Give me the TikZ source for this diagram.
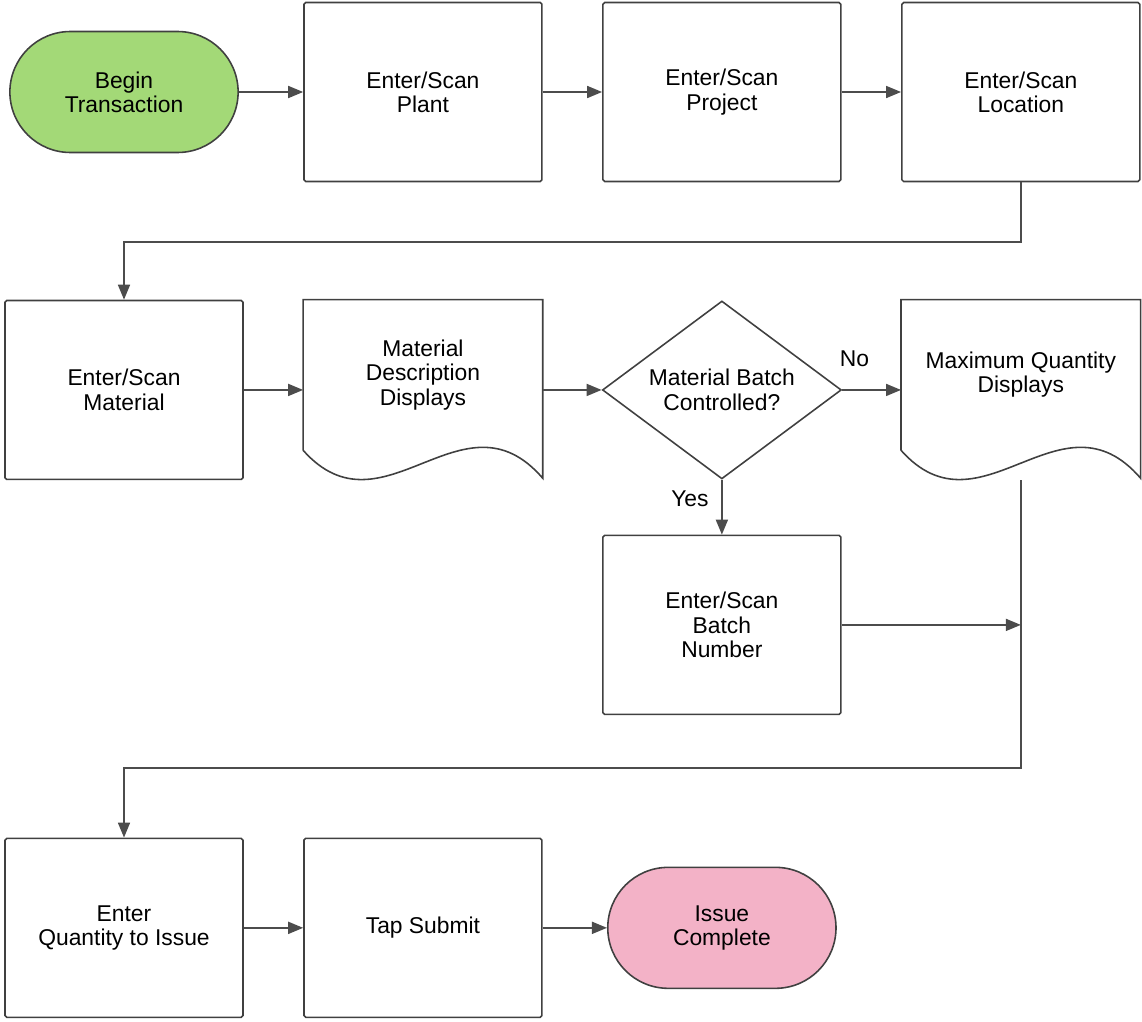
\documentclass[tikz,border=0pt]{standalone}
\usepackage{fontspec}
\setmainfont{Liberation Sans}
\usetikzlibrary{positioning, arrows.meta, shapes.geometric, shapes.misc}
\usetikzlibrary{calc}
\definecolor{startgreen}{RGB}{163,217,119}
\definecolor{endpink}{RGB}{243,178,199}
\tikzset{
x=0.02cm, y=-0.02cm, % one unit is one pixel, y runs downwards
>={Triangle[length=0.3cm,width=0.24cm]}, % filled arrow heads
node distance=5.98cm, % distance between two columns
every node/.style={font=\fontsize{13}{13.8}\selectfont, align=center}, % text of all nodes
box/.style={draw=black!75, line width=0.9pt, minimum width=4.76cm, minimum height=3.58cm, rounded corners=1pt}, % process steps
terminal/.style={rounded rectangle, draw=black!75, line width=0.9pt, minimum width=4.8cm, minimum height=2.42cm}, % start and end
decision/.style={diamond, aspect=1.34, draw=black!75, line width=0.9pt, minimum width=4.78cm, minimum height=3.56cm, inner sep=0pt}, % the question
doc/.style={minimum width=4.78cm, minimum height=3cm}, % text part of a document shape
flow/.style={->, draw=black!70, line width=1pt}, % connectors
}
\begin{document}
\begin{tikzpicture}
    \useasboundingbox (0,0) rectangle (1142,1021);
    \node[terminal, fill=startgreen] (begin) at (124,92) {Begin\\Transaction};
    \node[box, right of=begin] (plant) {Enter/Scan\\Plant};
    \node[box, right of=plant] (project) {Enter/Scan\\Project};
    \node[box, right of=project] (location) {Enter/Scan\\Location};
    \node[box, below of=begin, node distance=5.96cm] (material) {Enter/Scan\\Material};
    \node[doc, right of=material, yshift=0.3cm] (desc) {Material\\Description\\Displays};
    \node[decision, right of=material, node distance=11.96cm] (check) {Material Batch\\Controlled?};
    \node[doc, right of=check, yshift=0.3cm] (maxq) {Maximum Quantity\\Displays};
    \node[box, below of=check, node distance=4.7cm] (batch) {Enter/Scan\\Batch\\Number};
    \node[box, below of=material, node distance=10.76cm] (qty) {Enter\\Quantity to Issue};
    \node[box, right of=qty] (submit) {Tap Submit};
    \node[terminal, fill=endpink, right of=submit] (done) {Issue\\Complete};
    % document outlines with the wavy bottom
    \draw[draw=black!75, line width=0.9pt] (desc.south west) -- (desc.north west) -- (desc.north east) -- ($(desc.south east)+(0,28)$)
    .. controls ($(desc.south east)+(-80,-65)$) and ($(desc.south west)+(80,90)$) .. (desc.south west);
    \draw[draw=black!75, line width=0.9pt] (maxq.south west) -- (maxq.north west) -- (maxq.north east) -- ($(maxq.south east)+(0,28)$)
    .. controls ($(maxq.south east)+(-80,-65)$) and ($(maxq.south west)+(80,90)$) .. (maxq.south west);
    \coordinate (mqend) at ($(maxq.south)+(0,30)$);
    \draw[flow] (begin) -- (plant);
    \draw[flow] (plant) -- (project);
    \draw[flow] (project) -- (location);
    \draw[flow] (location.south) -- ++(0,60) -| (material.north);
    \draw[flow] (material) -- (material -| desc.west);
    \draw[flow] (desc.east |- check) -- (check);
    \draw[flow] (check) -- node[pos=0.21, yshift=0.62cm]{No} (check -| maxq.west);
    \draw[flow] (check) -- node[pos=0.35, xshift=-0.64cm]{Yes} (batch);
    \draw[flow] (batch) -- (batch -| mqend);
    \draw[flow] (mqend) -- ++(0,288) -| (qty.north);
    \draw[flow] (qty) -- (submit);
    \draw[flow] (submit) -- (done);
  \end{tikzpicture}
\end{document}
